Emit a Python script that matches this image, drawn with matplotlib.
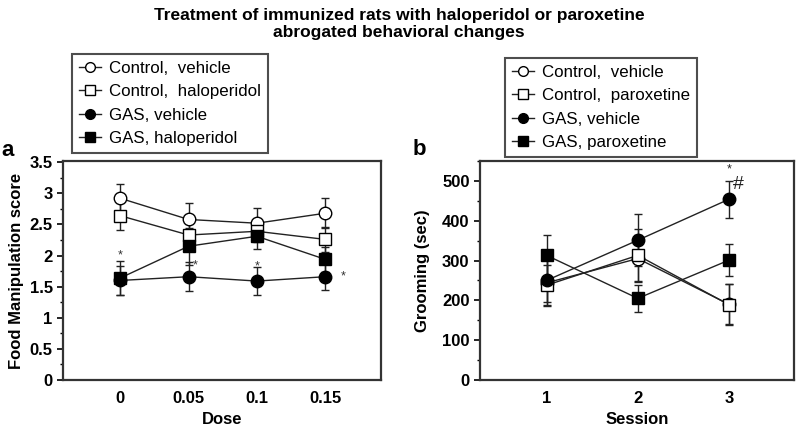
import matplotlib
matplotlib.use("Agg")
import matplotlib.pyplot as plt
from matplotlib.lines import Line2D
from matplotlib.ticker import MultipleLocator

plt.rcParams['font.family'] = ['Liberation Sans', 'DejaVu Sans']

# panel a: food manipulation score vs dose
dose = [0, 0.05, 0.1, 0.15]
dose_labels = ["0", "0.05", "0.1", "0.15"]
a_ctrl_veh = [2.92, 2.58, 2.52, 2.68]
a_ctrl_veh_err = [0.23, 0.27, 0.24, 0.24]
a_ctrl_hal = [2.64, 2.33, 2.39, 2.26]
a_ctrl_hal_err = [0.23, 0.20, 0.18, 0.20]
a_gas_veh = [1.60, 1.66, 1.59, 1.66]
a_gas_veh_err = [0.23, 0.23, 0.22, 0.21]
a_gas_hal = [1.64, 2.15, 2.31, 1.94]
a_gas_hal_err = [0.27, 0.30, 0.20, 0.20]

# panel b: grooming vs session
session = [1, 2, 3]
b_ctrl_veh = [244, 305, 190]
b_ctrl_veh_err = [58, 60, 50]
b_ctrl_par = [238, 313, 189]
b_ctrl_par_err = [50, 65, 52]
b_gas_veh = [250, 351, 454]
b_gas_veh_err = [55, 65, 46]
b_gas_par = [313, 205, 301]
b_gas_par_err = [52, 33, 40]

# significance marks (x, y, text)
a_marks = [(0, 2.0, "*"), (0.055, 1.84, "*"), (0.1, 1.82, "*"), (0.163, 1.66, "*")]
b_marks = [(3, 528, "*", 9), (3.1, 492, "#", 14)]

styles = [
    dict(marker="o", mfc="white"),
    dict(marker="s", mfc="white"),
    dict(marker="o", mfc="black"),
    dict(marker="s", mfc="black"),
]

fig = plt.figure(figsize=(7.98, 4.30), dpi=100)
fig.text(0.5, 0.944, "Treatment of immunized rats with haloperidol or paroxetine\n"
         "abrogated behavioral changes", ha="center", va="center",
         fontsize=12.5, fontweight="bold", linespacing=1.1)

ax_a = fig.add_axes([0.079, 0.1163, 0.3985, 0.5093])
ax_b = fig.add_axes([0.6015, 0.1163, 0.3932, 0.5093])


def draw(ax, x, series, errs):
    for y, e, st in zip(series, errs, styles):
        ax.errorbar(x, y, yerr=e, color="#222222", lw=1.0, elinewidth=1.0,
                    capsize=3, capthick=1.0, marker=st["marker"], ms=9,
                    mfc=st["mfc"], mec="black", mew=1.0)
    for sp in ax.spines.values():
        sp.set_linewidth(1.6)
        sp.set_color("#333333")
    ax.tick_params(axis="x", length=0, pad=8)
    ax.tick_params(axis="y", which="major", length=4, width=1.2, direction="out")
    ax.tick_params(axis="y", which="minor", length=2, width=1.0, direction="out")


def legend_handles():
    return [Line2D([], [], color="#222222", lw=1.0, marker=st["marker"], ms=7,
                   mfc=st["mfc"], mec="black", mew=1.0) for st in styles]


labels_a = ["Control,  vehicle", "Control,  haloperidol", "GAS, vehicle", "GAS, haloperidol"]
draw(ax_a, dose, [a_ctrl_veh, a_ctrl_hal, a_gas_veh, a_gas_hal],
     [a_ctrl_veh_err, a_ctrl_hal_err, a_gas_veh_err, a_gas_hal_err])
ax_a.set_xlim(-0.042, 0.191)
ax_a.set_ylim(0, 3.52)
ax_a.set_xticks(dose)
ax_a.set_xticklabels(dose_labels, fontweight="bold", fontsize=12)
ax_a.set_yticks([0, 0.5, 1, 1.5, 2, 2.5, 3, 3.5])
ax_a.set_yticklabels(["0", "0.5", "1", "1.5", "2", "2.5", "3", "3.5"], fontweight="bold", fontsize=12)
ax_a.yaxis.set_minor_locator(MultipleLocator(0.25))
ax_a.set_xlabel("Dose", fontweight="bold", fontsize=12, labelpad=4)
ax_a.set_ylabel("Food Manipulation score", fontweight="bold", fontsize=12, labelpad=4)
for x, y, t in a_marks:
    ax_a.text(x, y, t, ha="center", va="center", fontsize=9, color="#333333")

labels_b = ["Control,  vehicle", "Control,  paroxetine", "GAS, vehicle", "GAS, paroxetine"]
draw(ax_b, session, [b_ctrl_veh, b_ctrl_par, b_gas_veh, b_gas_par],
     [b_ctrl_veh_err, b_ctrl_par_err, b_gas_veh_err, b_gas_par_err])
ax_b.set_xlim(0.27, 3.71)
ax_b.set_ylim(0, 550)
ax_b.set_xticks(session)
ax_b.set_xticklabels(["1", "2", "3"], fontweight="bold", fontsize=12)
ax_b.set_yticks([0, 100, 200, 300, 400, 500])
ax_b.set_yticklabels(["0", "100", "200", "300", "400", "500"], fontweight="bold", fontsize=12)
ax_b.yaxis.set_minor_locator(MultipleLocator(50))
ax_b.set_xlabel("Session", fontweight="bold", fontsize=12, labelpad=4)
ax_b.set_ylabel("Grooming (sec)", fontweight="bold", fontsize=12, labelpad=9)
for x, y, t, fs in b_marks:
    ax_b.text(x, y, t, ha="center", va="center", fontsize=fs, color="#222222")

fig.text(0.009, 0.649, "a", fontsize=16, fontweight="bold", ha="center", va="center")
fig.text(0.526, 0.652, "b", fontsize=16, fontweight="bold", ha="center", va="center")

leg_kw = dict(loc="upper left", fontsize=12.2, frameon=True, fancybox=False,
              handlelength=1.3, handletextpad=0.5, labelspacing=0.5,
              borderpad=0.4, borderaxespad=0)
leg_a = fig.legend(handles=legend_handles(), labels=labels_a,
                   bbox_to_anchor=(0.0902, 0.8744), **leg_kw)
leg_b = fig.legend(handles=legend_handles(), labels=labels_b,
                   bbox_to_anchor=(0.6328, 0.8651), **leg_kw)
for leg in (leg_a, leg_b):
    leg.get_frame().set_edgecolor("#222222")
    leg.get_frame().set_linewidth(1.5)

fig.savefig("out.png", dpi=100)
